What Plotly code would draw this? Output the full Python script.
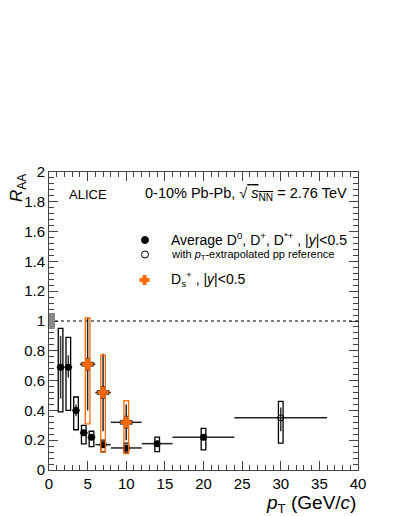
import plotly.graph_objects as go

# ---- data ----
d_pt = [1.5, 2.5, 3.5, 4.5, 5.5, 7, 10, 14, 20, 30]
d_pt_err = [0.5, 0.5, 0.5, 0.5, 0.5, 1, 2, 2, 4, 6]
d_raa = [0.69, 0.69, 0.40, 0.25, 0.22, 0.17, 0.148, 0.177, 0.22, 0.35]
d_stat_up = [0.21, 0.08, 0.04, 0.02, 0.02, 0.015, 0.015, 0.02, 0.02, 0.07]
d_stat_dn = [0.21, 0.07, 0.04, 0.02, 0.02, 0.015, 0.015, 0.02, 0.02, 0.09]
d_syst_hi = [0.95, 0.89, 0.49, 0.30, 0.26, 0.20, 0.18, 0.22, 0.28, 0.46]
d_syst_lo = [0.39, 0.40, 0.27, 0.175, 0.157, 0.123, 0.12, 0.123, 0.135, 0.18]
d_open = [False] * 9 + [True]

ds_pt = [5, 7, 10]
ds_pt_err = [1, 1, 2]
ds_raa = [0.71, 0.52, 0.32]
ds_stat_hi = [1.02, 0.78, 0.44]
ds_stat_lo = [0.40, 0.26, 0.20]
ds_syst_hi = [1.02, 0.77, 0.465]
ds_syst_lo = [0.31, 0.12, 0.11]

norm_unc = 0.05
box_half = 0.3
ORANGE = "#ff6a00"
FONT = "Liberation Sans, Arial, sans-serif"

# page has an 8px body margin: figure drawn at (8, 8)
OFF = 8
W, H = 399 - OFF, 516 - OFF
L, R, T, B = 49, 358, 172, 470  # plot area in window pixels

fig = go.Figure()
shapes = []

shapes.append(dict(type="line", xref="x", yref="y", x0=0, x1=40, y0=1, y1=1,
                   line=dict(color="black", width=1, dash="dot")))
shapes.append(dict(type="rect", xref="x", yref="y", x0=0, x1=0.7,
                   y0=1 - norm_unc, y1=1 + norm_unc,
                   fillcolor="#888888", line=dict(color="#888888", width=1)))

for x, lo, hi in zip(d_pt, d_syst_lo, d_syst_hi):
    shapes.append(dict(type="rect", xref="x", yref="y", x0=x - box_half, x1=x + box_half,
                       y0=lo, y1=hi, line=dict(color="black", width=1.3)))
for x, lo, hi in zip(ds_pt, ds_syst_lo, ds_syst_hi):
    shapes.append(dict(type="rect", xref="x", yref="y", x0=x - box_half, x1=x + box_half,
                       y0=lo, y1=hi, line=dict(color=ORANGE, width=1.3)))

fig.add_trace(go.Scatter(
    x=[x for x, o in zip(d_pt, d_open) if not o], y=[v for v, o in zip(d_raa, d_open) if not o],
    mode="markers",
    marker=dict(symbol="circle", size=7, color="black"),
    error_x=dict(type="data", array=[v for v, o in zip(d_pt_err, d_open) if not o],
                 width=0, thickness=1.5, color="#222"),
    error_y=dict(type="data", symmetric=False,
                 array=[v for v, o in zip(d_stat_up, d_open) if not o],
                 arrayminus=[v for v, o in zip(d_stat_dn, d_open) if not o],
                 width=0, thickness=1.5, color="#333"),
    showlegend=False))
fig.add_trace(go.Scatter(
    x=[x for x, o in zip(d_pt, d_open) if o], y=[v for v, o in zip(d_raa, d_open) if o],
    mode="markers",
    marker=dict(symbol="circle-open", size=6, color="black", line=dict(width=1)),
    error_x=dict(type="data", array=[v for v, o in zip(d_pt_err, d_open) if o],
                 width=0, thickness=1.5, color="#222"),
    error_y=dict(type="data", symmetric=False,
                 array=[v for v, o in zip(d_stat_up, d_open) if o],
                 arrayminus=[v for v, o in zip(d_stat_dn, d_open) if o],
                 width=0, thickness=1.5, color="#333"),
    showlegend=False))
fig.add_trace(go.Scatter(
    x=ds_pt, y=ds_raa, mode="markers",
    marker=dict(symbol="cross", size=10, color=ORANGE, line=dict(color="#333", width=0.8)),
    error_x=dict(type="data", array=ds_pt_err, width=0, thickness=1.5, color="#222"),
    error_y=dict(type="data", symmetric=False,
                 array=[h - v for h, v in zip(ds_stat_hi, ds_raa)],
                 arrayminus=[v - l for l, v in zip(ds_stat_lo, ds_raa)],
                 width=0, thickness=1.5, color="#222"),
    showlegend=False))

def pxx(xp):
    return (xp - L) / (R - L)
def pyy(yp):
    return (B - yp) / (B - T)

shapes.append(dict(type="circle", xref="paper", yref="paper",
                   x0=pxx(141.5), x1=pxx(148.5), y0=pyy(243.5), y1=pyy(236.5),
                   fillcolor="black", line=dict(color="black", width=1)))
shapes.append(dict(type="circle", xref="paper", yref="paper",
                   x0=pxx(141.5), x1=pxx(148.5), y0=pyy(258), y1=pyy(251),
                   line=dict(color="black", width=1)))
shapes.append(dict(type="rect", xref="paper", yref="paper",
                   x0=pxx(139.5), x1=pxx(149.5), y0=pyy(282), y1=pyy(278),
                   fillcolor=ORANGE, line=dict(color=ORANGE, width=0)))
shapes.append(dict(type="rect", xref="paper", yref="paper",
                   x0=pxx(142.5), x1=pxx(146.5), y0=pyy(285), y1=pyy(275),
                   fillcolor=ORANGE, line=dict(color=ORANGE, width=0)))

def ann(text, x, y, xa, ya, size, angle=0):
    return dict(text=text, x=x, y=y, xref="paper", yref="paper", xanchor=xa, yanchor=ya,
                showarrow=False, textangle=angle,
                font=dict(size=size, family=FONT, color="black"))

annotations = [
    ann("ALICE", pxx(67), pyy(194), "left", "middle", 13),
    ann("0-10% Pb-Pb, √<span style='text-decoration:overline'> <i>s</i><sub>NN</sub></span> = 2.76 TeV",
        pxx(349), pyy(194), "right", "middle", 14.5),
    ann("Average D<sup>0</sup>, D<sup>+</sup>, D<sup>*+</sup> , |<i>y</i>|<0.5",
        pxx(169), pyy(239), "left", "middle", 14),
    ann("with <i>p</i><sub>T</sub>-extrapolated pp reference",
        pxx(169), pyy(255), "left", "middle", 11),
    ann("D<sub>s</sub><sup>+</sup> , |<i>y</i>|<0.5", pxx(169), pyy(279), "left", "middle", 14),
    ann("<i>R</i><sub>AA</sub>", pxx(18), 1.0, "center", "top", 17, -90),
    ann("<i>p</i><sub>T</sub> (GeV/<i>c</i>)", 1.0, pyy(490), "right", "top", 19),
]

axis_common = dict(showgrid=False, zeroline=False, showline=True, linecolor="#444",
                   linewidth=1, mirror="ticks", ticks="inside", tickcolor="#444",
                   ticklen=9, tickwidth=1,
                   tickfont=dict(size=15, family=FONT, color="black"))

fig.update_layout(
    width=W, height=H,
    margin=dict(l=L - OFF, r=399 - R, t=T - OFF, b=516 - B, pad=0, autoexpand=False),
    paper_bgcolor="white", plot_bgcolor="white",
    showlegend=False,
    xaxis=dict(range=[0, 40], tickmode="array", tickvals=[0, 5, 10, 15, 20, 25, 30, 35, 40],
               minor=dict(dtick=1, ticks="inside", ticklen=5, tickcolor="#444"),
               **axis_common),
    yaxis=dict(range=[0, 2], tickmode="array",
               tickvals=[0, 0.2, 0.4, 0.6, 0.8, 1, 1.2, 1.4, 1.6, 1.8, 2],
               ticktext=["0", "0.2", "0.4", "0.6", "0.8", "1", "1.2", "1.4", "1.6", "1.8", "2"],
               minor=dict(dtick=0.04, ticks="inside", ticklen=5, tickcolor="#444"),
               **axis_common),
    shapes=shapes,
    annotations=annotations,
)

fig.write_html("out.html")
